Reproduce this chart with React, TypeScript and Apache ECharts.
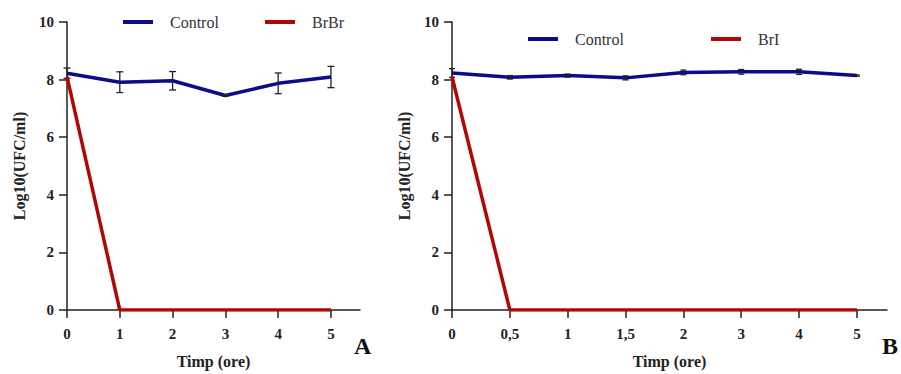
import React, { useEffect, useRef } from "react";
import * as echarts from "echarts";

// ---- Data ----
const xA = [0, 1, 2, 3, 4, 5];
const xALabels = ["0", "1", "2", "3", "4", "5"];
const controlA = [8.22, 7.91, 7.96, 7.45, 7.87, 8.09];
const controlAErr = [0.18, 0.36, 0.32, 0.02, 0.36, 0.37];
const brbr = [8.1, 0, 0, 0, 0, 0];

const xB = [0, 1, 2, 3, 4, 5, 6, 7];
const xBLabels = ["0", "0,5", "1", "1,5", "2", "3", "4", "5"];
const controlB = [8.23, 8.08, 8.14, 8.06, 8.25, 8.27, 8.27, 8.14];
const controlBErr = [0.15, 0.06, 0.05, 0.07, 0.08, 0.08, 0.09, 0.02];
const bri = [8.1, 0, 0, 0, 0, 0, 0, 0];

const yTicks = [0, 2, 4, 6, 8, 10];

const BLUE = "#0b0b8c";
const RED = "#b00808";
const FONT = "'Liberation Serif', serif";

function errData(xs: number[], ys: number[], es: number[]) {
  return xs.map((x, i) => [x, ys[i] - es[i], ys[i] + es[i]]);
}

function errSeries(xi: number, data: number[][], cap: number) {
  return {
    type: "custom",
    xAxisIndex: xi,
    yAxisIndex: xi,
    z: 4,
    silent: true,
    data,
    renderItem: (params: any, api: any) => {
      const x = api.value(0);
      const lo = api.coord([x, api.value(1)]);
      const hi = api.coord([x, api.value(2)]);
      const st = { stroke: "#222", lineWidth: 1.3 };
      return {
        type: "group",
        children: [
          { type: "line", shape: { x1: lo[0], y1: lo[1], x2: hi[0], y2: hi[1] }, style: st },
          { type: "line", shape: { x1: lo[0] - cap, y1: lo[1], x2: lo[0] + cap, y2: lo[1] }, style: st },
          { type: "line", shape: { x1: hi[0] - cap, y1: hi[1], x2: hi[0] + cap, y2: hi[1] }, style: st },
        ],
      };
    },
  };
}

export default function App() {
  const ref = useRef<HTMLDivElement>(null);
  useEffect(() => {
    if (!ref.current) return;
    const chart = echarts.init(ref.current, null, { renderer: "svg" });
    const axisLine = { show: true, lineStyle: { color: "#222", width: 1.5 } };
    const axisTick = { show: true, inside: false, length: 8, lineStyle: { color: "#222", width: 1.5 } };
    const labelStyle = { fontFamily: FONT, fontWeight: "bold" as const, fontSize: 15, color: "#222" };
    const nameStyle = { fontFamily: FONT, fontWeight: "bold" as const, fontSize: 16, color: "#222" };

    const mkX = (gi: number, max: number, vals: number[], labels: string[]) => ({
      type: "value",
      gridIndex: gi,
      min: 0,
      max,
      interval: 1,
      splitLine: { show: false },
      axisLine,
      axisTick: { ...axisTick, customValues: vals },
      axisLabel: {
        ...labelStyle,
        margin: 16,
        customValues: vals,
        formatter: (v: number) => labels[Math.round(v)] ?? "",
      },
      name: "Timp (ore)",
      nameLocation: "middle",
      nameGap: 43,
      nameTextStyle: nameStyle,
    });
    const mkY = (gi: number) => ({
      type: "value",
      gridIndex: gi,
      min: 0,
      max: 10,
      interval: 2,
      splitLine: { show: false },
      axisLine,
      axisTick: { ...axisTick, customValues: yTicks },
      axisLabel: { ...labelStyle, margin: 13, customValues: yTicks },
      name: "Log10(UFC/ml)",
      nameLocation: "middle",
      nameGap: 40,
      nameTextStyle: nameStyle,
    });

    const legendText = { fontFamily: FONT, fontSize: 16, color: "#333", padding: [0, 0, 0, 12] };
    const mkLegend = (name: string, left: number, top: number) => ({
      data: [{ name, icon: "rect" }],
      left,
      top,
      padding: 0,
      itemWidth: 30,
      itemHeight: 4,
      itemGap: 0,
      textStyle: legendText,
      selectedMode: false,
    });

    chart.setOption({
      animation: false,
      backgroundColor: "#fff",
      grid: [
        { left: 67, top: 22, width: 293, height: 290 },
        { left: 452, top: 22, width: 435, height: 290 },
      ],
      xAxis: [mkX(0, 5.55, xA, xALabels), mkX(1, 7.52, xB, xBLabels)],
      yAxis: [mkY(0), mkY(1)],
      legend: [
        mkLegend("Control", 123, 14),
        mkLegend("BrBr", 265, 14),
        mkLegend("Control ", 528, 31),
        mkLegend("BrI", 711, 31),
      ],
      series: [
        {
          name: "Control",
          type: "line",
          xAxisIndex: 0,
          yAxisIndex: 0,
          data: xA.map((x, i) => [x, controlA[i]]),
          showSymbol: false,
          lineStyle: { color: BLUE, width: 3.5 },
          itemStyle: { color: BLUE },
          z: 3,
        },
        errSeries(0, errData(xA, controlA, controlAErr), 3.5),
        {
          name: "BrBr",
          type: "line",
          xAxisIndex: 0,
          yAxisIndex: 0,
          data: xA.map((x, i) => [x, brbr[i]]),
          showSymbol: false,
          lineStyle: { color: RED, width: 3.5 },
          itemStyle: { color: RED },
          z: 5,
        },
        {
          name: "Control ",
          type: "line",
          xAxisIndex: 1,
          yAxisIndex: 1,
          data: xB.map((x, i) => [x, controlB[i]]),
          showSymbol: false,
          lineStyle: { color: BLUE, width: 3.5 },
          itemStyle: { color: BLUE },
          z: 3,
        },
        errSeries(1, errData(xB, controlB, controlBErr), 3),
        {
          name: "BrI",
          type: "line",
          xAxisIndex: 1,
          yAxisIndex: 1,
          data: xB.map((x, i) => [x, bri[i]]),
          showSymbol: false,
          lineStyle: { color: RED, width: 3.5 },
          itemStyle: { color: RED },
          z: 5,
        },
      ],
      graphic: [
        {
          type: "text",
          left: 354,
          top: 334,
          style: { text: "A", font: `bold 24px ${FONT}`, fill: "#111" },
        },
        {
          type: "text",
          left: 882,
          top: 334,
          style: { text: "B", font: `bold 24px ${FONT}`, fill: "#111" },
        },
      ],
    });
    return () => chart.dispose();
  }, []);
  return (
    <div
      ref={ref}
      style={{ position: "absolute", left: 0, top: 0, width: 901, height: 374 }}
    />
  );
}
